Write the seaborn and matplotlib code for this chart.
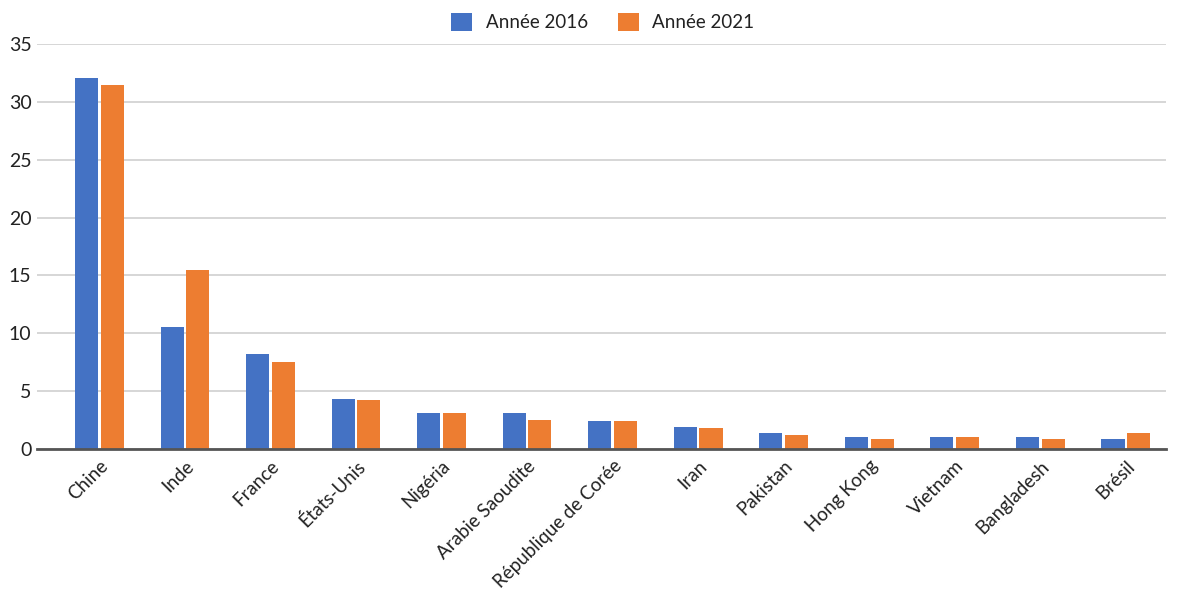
import matplotlib
matplotlib.use("Agg")
import matplotlib.pyplot as plt
import seaborn as sns
import pandas as pd

pays = ["Chine", "Inde", "France", "États-Unis", "Nigéria", "Arabie Saoudite",
        "République de Corée", "Iran", "Pakistan", "Hong Kong", "Vietnam",
        "Bangladesh", "Brésil"]
annee_2016 = [32.1, 10.5, 8.2, 4.3, 3.1, 3.1, 2.4, 1.9, 1.4, 1.0, 1.0, 1.0, 0.9]
annee_2021 = [31.5, 15.5, 7.5, 4.2, 3.1, 2.5, 2.4, 1.8, 1.2, 0.9, 1.0, 0.9, 1.4]
series = ["Année 2016", "Année 2021"]
couleurs = ["#4472C4", "#ED7D31"]
graduations = [0, 5, 10, 15, 20, 25, 30, 35]

df = pd.DataFrame({
    "pays": pays * 2,
    "valeur": annee_2016 + annee_2021,
    "serie": [series[0]] * len(pays) + [series[1]] * len(pays),
})

sns.set_theme(style="white")
plt.rcParams["font.family"] = ["Lato", "DejaVu Sans"]

fig = plt.figure(figsize=(11.79, 5.95), dpi=100)
ax = fig.add_axes([0.0314, 0.2454, 0.9576, 0.6806])

sns.barplot(data=df, x="pays", y="valeur", hue="serie", hue_order=series,
            palette=couleurs, width=0.6, gap=0.1, saturation=1,
            edgecolor="none", ax=ax)

ax.set_ylim(0, 35)
ax.set_xlim(-0.73, len(pays) - 0.53)
ax.set_yticks(graduations)
ax.set_yticklabels([str(g) for g in graduations], fontsize=14, color="#222222")
ax.yaxis.grid(True, color="#d0d0d0", linewidth=1.2)
ax.set_axisbelow(True)
ax.set_xlabel("")
ax.set_ylabel("")
for s in ["left", "right", "top"]:
    ax.spines[s].set_visible(False)
ax.spines["bottom"].set_color("#555555")
ax.spines["bottom"].set_linewidth(2)
ax.tick_params(axis="y", length=0, pad=4)
ax.tick_params(axis="x", length=0, pad=6)
ax.set_xticks(range(len(pays)))
ax.set_xticklabels(pays, rotation=45, ha="right", rotation_mode="anchor",
                   fontsize=13.5, color="#222222")

leg = ax.legend(loc="lower center", bbox_to_anchor=(0.501, 0.99), ncol=2,
                frameon=False, fontsize=13.5, handlelength=1.15, handleheight=1.15,
                columnspacing=1.6, handletextpad=0.7)
for t in leg.get_texts():
    t.set_color("#222222")

fig.savefig("out.png", dpi=100)
